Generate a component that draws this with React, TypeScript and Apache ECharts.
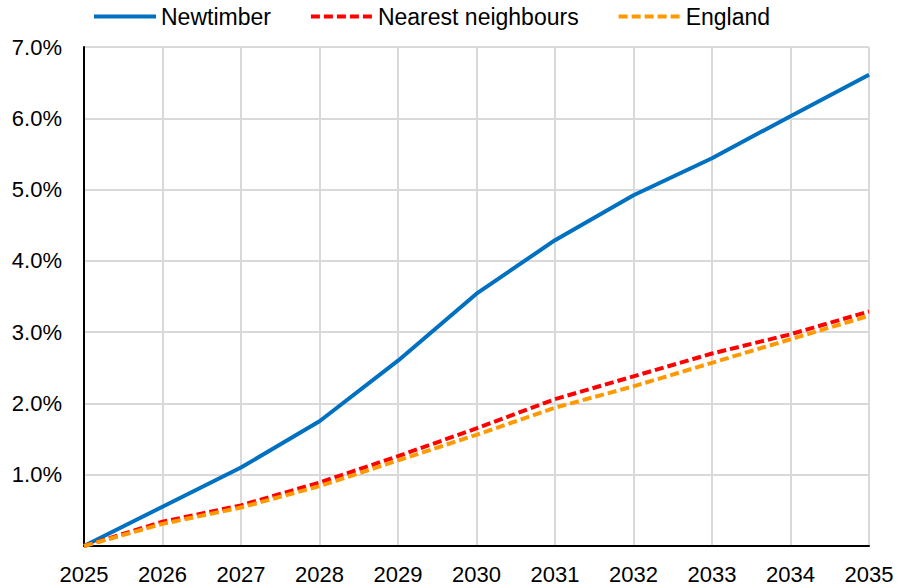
import React, { useEffect, useRef } from "react";
import * as echarts from "echarts";

const years = ["2025", "2026", "2027", "2028", "2029", "2030", "2031", "2032", "2033", "2034", "2035"];
const newtimber = [0, 0.55, 1.1, 1.75, 2.6, 3.54, 4.29, 4.92, 5.44, 6.03, 6.61];
const nearestNeighbours = [0, 0.34, 0.57, 0.89, 1.26, 1.65, 2.06, 2.38, 2.7, 2.97, 3.29];
const england = [0, 0.31, 0.54, 0.84, 1.2, 1.56, 1.94, 2.24, 2.57, 2.9, 3.23];
const yTicks = [0, 1, 2, 3, 4, 5, 6, 7];

const FONT = "'Liberation Sans', Arial, sans-serif";

export default function App() {
  const ref = useRef<HTMLDivElement>(null);
  useEffect(() => {
    document.body.style.margin = "0";
    if (!ref.current) return;
    const chart = echarts.init(ref.current, null, { renderer: "svg" });
    chart.setOption({
      animation: false,
      backgroundColor: "#ffffff",
      textStyle: { fontFamily: FONT },
      legend: {
        left: 92,
        top: 5,
        padding: 0,
        itemGap: 38,
        itemWidth: 62,
        itemHeight: 22,
        itemStyle: { opacity: 0 },
        lineStyle: { width: 4 },
        textStyle: { fontSize: 23, color: "#000", fontFamily: FONT },
        data: ["Newtimber", "Nearest neighbours", "England"],
      },
      grid: { left: 84, right: 29, top: 47, bottom: 39, containLabel: false },
      xAxis: {
        type: "category",
        data: years,
        boundaryGap: false,
        axisLine: { show: true, lineStyle: { color: "#000", width: 2 } },
        axisTick: { show: false },
        axisLabel: { color: "#000", fontSize: 22, margin: 17, fontFamily: FONT, interval: 0 },
        splitLine: { show: true, lineStyle: { color: "#d9d9d9", width: 2 } },
      },
      yAxis: {
        type: "value",
        min: yTicks[0],
        max: yTicks[yTicks.length - 1],
        interval: 1,
        axisLine: { show: true, lineStyle: { color: "#000", width: 2 } },
        axisTick: { show: false },
        axisLabel: {
          color: "#000",
          fontSize: 22,
          margin: 22,
          fontFamily: FONT,
          formatter: (v: number) => (v === 0 ? "" : v.toFixed(1) + "%"),
        },
        splitLine: { show: true, lineStyle: { color: "#d9d9d9", width: 2 } },
      },
      series: [
        {
          name: "Newtimber",
          type: "line",
          data: newtimber,
          symbol: "none",
          itemStyle: { color: "#0070C0" },
          lineStyle: { color: "#0070C0", width: 4 },
        },
        {
          name: "Nearest neighbours",
          type: "line",
          data: nearestNeighbours,
          symbol: "none",
          itemStyle: { color: "#FF0000" },
          lineStyle: { color: "#FF0000", width: 4, type: [9, 4] },
        },
        {
          name: "England",
          type: "line",
          data: england,
          symbol: "none",
          itemStyle: { color: "#FF9900" },
          lineStyle: { color: "#FF9900", width: 4, type: [9, 4] },
        },
      ],
    });
    return () => chart.dispose();
  }, []);
  return <div ref={ref} style={{ width: 898, height: 585 }} />;
}
